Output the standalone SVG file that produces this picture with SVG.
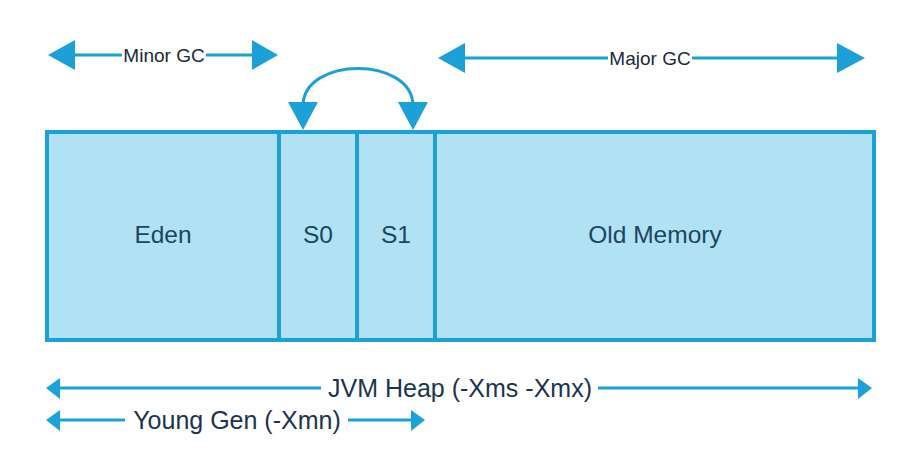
<svg xmlns="http://www.w3.org/2000/svg" width="906" height="462" viewBox="0 0 906 462">
<style>
.box{fill:#b0e2f3;stroke:#1ba0d8;stroke-width:4}
.lbl{font-family:"Liberation Sans",Arial,sans-serif;font-size:24.5px;fill:#1b4561;text-anchor:middle}
.gc{font-family:"Liberation Sans",Arial,sans-serif;font-size:19px;fill:#1a2a3c;text-anchor:middle}
.big{font-family:"Liberation Sans",Arial,sans-serif;font-size:25px;fill:#1b3550;text-anchor:middle}
.ln{stroke:#1ba0d8;stroke-width:3;fill:none}
.hd{fill:#1ba0d8}
</style>
<rect width="906" height="462" fill="#ffffff"/>
<g id="eden"><rect class="box" x="47" y="132" width="232" height="208"/><text class="lbl" x="163" y="243">Eden</text></g>
<g id="s0"><rect class="box" x="279" y="132" width="78" height="208"/><text class="lbl" x="318" y="243">S0</text></g>
<g id="s1"><rect class="box" x="357" y="132" width="78" height="208"/><text class="lbl" x="396" y="243">S1</text></g>
<g id="old"><rect class="box" x="435" y="132" width="439" height="208"/><text class="lbl" x="655" y="243">Old Memory</text></g>
<g id="connectors">
<g id="minor-gc">
<line class="ln" x1="70" y1="55" x2="122" y2="55"/>
<line class="ln" x1="206" y1="55" x2="256" y2="55"/>
<polygon class="hd" points="48,55 75,40 75,70"/>
<polygon class="hd" points="278,55 252,40 252,70"/>
<text class="gc" x="164" y="62">Minor GC</text>
</g>
<g id="major-gc">
<line class="ln" x1="460" y1="58" x2="608" y2="58"/>
<line class="ln" x1="692" y1="58" x2="842" y2="58"/>
<polygon class="hd" points="438,58 465,43 465,73"/>
<polygon class="hd" points="865,58 837,43 837,73"/>
<text class="gc" x="650" y="65">Major GC</text>
</g>
<g id="swap">
<path class="ln" d="M303 106 C303 56,413 56,413 106" stroke-width="4"/>
<polygon class="hd" points="288,102 318,102 303,130"/>
<polygon class="hd" points="398,102 428,102 413,130"/>
</g>
<g id="heap">
<line class="ln" x1="56" y1="388" x2="321" y2="388"/>
<line class="ln" x1="598" y1="388" x2="862" y2="388"/>
<polygon class="hd" points="46,388 60,378 60,399"/>
<polygon class="hd" points="872,388 858,378 858,399"/>
<text class="big" x="460" y="397">JVM Heap (-Xms -Xmx)</text>
</g>
<g id="young">
<line class="ln" x1="56" y1="420" x2="125" y2="420"/>
<line class="ln" x1="348" y1="420" x2="415" y2="420"/>
<polygon class="hd" points="46,420 60,410 60,431"/>
<polygon class="hd" points="425,420 411,410 411,431"/>
<text class="big" x="237" y="429">Young Gen (-Xmn)</text>
</g>
</g>
</svg>
